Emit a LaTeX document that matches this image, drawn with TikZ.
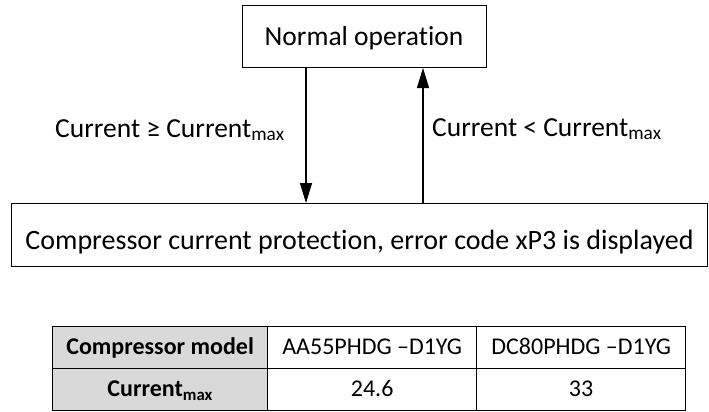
\documentclass[tikz,border=0pt]{standalone}
\usepackage{fontspec}
\setmainfont{Carlito}[Ligatures=NoCommon]
\usetikzlibrary{arrows.meta}
\definecolor{headgray}{HTML}{D9D9D9}
\begin{document}
\begin{tikzpicture}[x=1pt,y=-1pt,
  box/.style={draw=black,line width=1pt,inner sep=0pt,font=\fontsize{27.5}{33}\selectfont},
  conn/.style={line width=1.3pt,-{Triangle[length=20pt,width=12pt]}},
  lbl/.style={inner sep=0pt,font=\fontsize{27.5}{33}\selectfont},
  cell/.style={draw=black,line width=1.3pt,inner sep=0pt,anchor=north west,minimum height=42pt,text height=28pt,text depth=14pt,font=\fontsize{24}{29}\selectfont},
  hcell/.style={cell,fill=headgray,font=\bfseries\fontsize{24}{29}\selectfont}
]
\useasboundingbox (0,0) rectangle (709,412);

\node[box,anchor=north,minimum width=244pt,text height=40pt,text depth=22pt] (normal) at (364,5) {Normal operation};
\node[box,anchor=north,minimum width=696pt,text height=46pt,text depth=17pt,font=\fontsize{28}{33}\selectfont] (prot) at (359.5,203) {Compressor current protection, error code xP3 is displayed};

\coordinate (dx) at (306,0);
\coordinate (ux) at (423,0);
\draw[conn] (normal.south -| dx) -- (prot.north -| dx);
\draw[conn] (prot.north -| ux) -- (normal.south -| ux);

\node[lbl,anchor=base west] (lge) at (55,137) {Current ≥ Current\textsubscript{max}};
\node[lbl,anchor=base west] (llt) at (432,136) {Current < Current\textsubscript{max}};

\node[hcell,minimum width=215pt] (h1) at (52,326) {Compressor model};
\node[cell,minimum width=209pt] (h2) at (267,326) {AA55PHDG –D1YG};
\node[cell,minimum width=209pt] (h3) at (476,326) {DC80PHDG –D1YG};
\node[hcell,minimum width=215pt] (r1) at (52,368) {Current\textsubscript{max}};
\node[cell,minimum width=209pt] (r2) at (267,368) {24.6};
\node[cell,minimum width=209pt] (r3) at (476,368) {33};
\end{tikzpicture}
\end{document}
